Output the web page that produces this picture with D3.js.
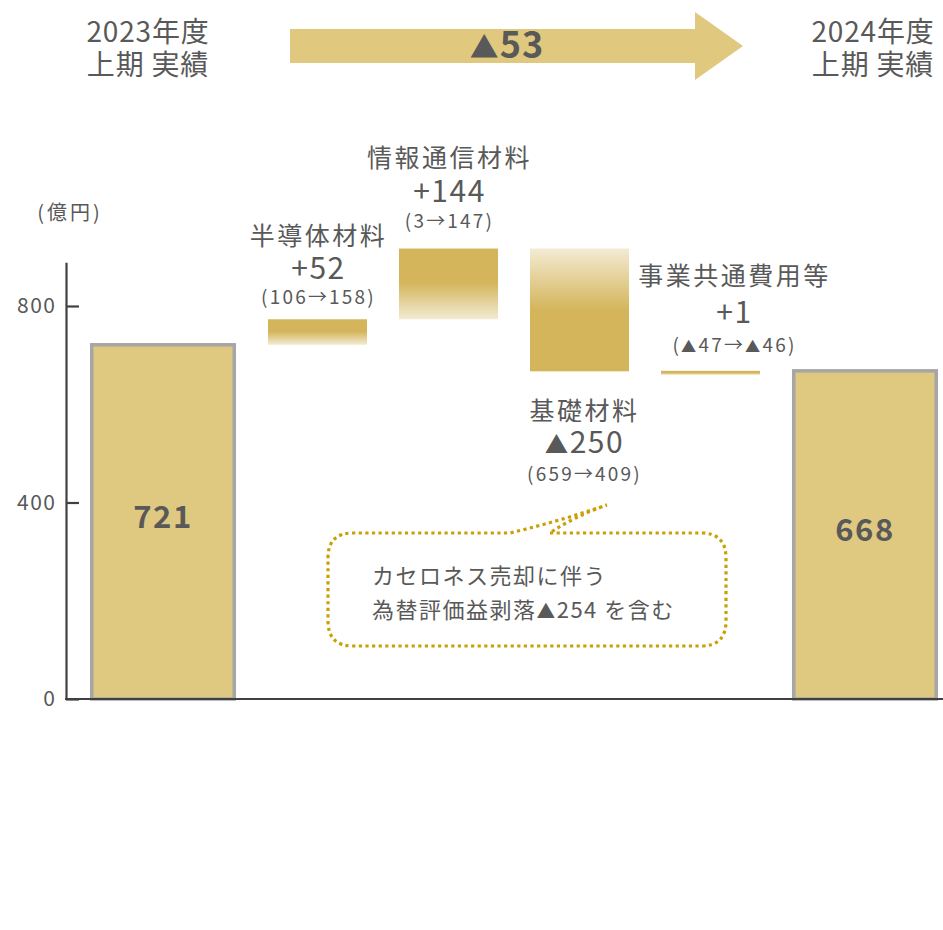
<!DOCTYPE html>
<html>
<head>
<meta charset="utf-8">
<script src="https://cdn.jsdelivr.net/npm/d3@7"></script>
<style>
  html, body { margin: 0; padding: 0; background: #fff; }
  svg { display: block; }
  text { font-family: "Noto Sans CJK JP", "Noto Sans", sans-serif; fill: #595959; }
</style>
</head>
<body>
<svg id="chart" width="943" height="930"></svg>
<script>
// ---- data ----
const categories = ["2023年度 上期 実績", "半導体材料", "情報通信材料", "基礎材料", "事業共通費用等", "2024年度 上期 実績"];
const kinds      = ["total", "delta", "delta", "delta", "delta", "total"];
const values     = [721, 52, 144, -250, 1, 668];
const subLabels  = ["", "(106→158)", "(3→147)", "(659→409)", "(▲47→▲46)", ""];
const headerLines = [["2023年度", "上期 実績"], ["2024年度", "上期 実績"]];
const totalChange = "▲53";
const yTicks = [0, 400, 800];
const yAxisMax = 889;
const unitLabel = "(億円)";
const noteLines = ["カセロネス売却に伴う", "為替評価益剥落▲254 を含む"];

// ---- helpers ----
const fmtDelta = v => (v >= 0 ? "+" : "▲") + Math.abs(v);
// writes text, rendering ▲ a little smaller as in the original font
function richText(sel, str, triScale) {
  const parts = str.split(/(▲)/).filter(s => s.length);
  parts.forEach(s => {
    const t = sel.append("tspan").text(s);
    if (s === "▲") t.style("font-size", triScale + "em");
  });
  return sel;
}

const svg = d3.select("#chart");
const gold = "#d4b55b", light = "#f3ebd3", solid = "#dfc880";

const defs = svg.append("defs");
const gDown = defs.append("linearGradient").attr("id", "gDown").attr("x1", 0).attr("y1", 0).attr("x2", 0).attr("y2", 1);
gDown.append("stop").attr("offset", "0").attr("stop-color", gold);
gDown.append("stop").attr("offset", "0.48").attr("stop-color", gold);
gDown.append("stop").attr("offset", "1").attr("stop-color", light);
const gUp = defs.append("linearGradient").attr("id", "gUp").attr("x1", 0).attr("y1", 0).attr("x2", 0).attr("y2", 1);
gUp.append("stop").attr("offset", "0").attr("stop-color", light);
gUp.append("stop").attr("offset", "0.5").attr("stop-color", gold);
gUp.append("stop").attr("offset", "1").attr("stop-color", gold);

// ---- scales ----
const y = d3.scaleLinear().domain([0, 800]).range([699, 306]);
const x = d3.scaleBand().domain(categories).range([121, 907]).paddingInner(0.244).paddingOuter(0.122);
const bw = x.bandwidth();
const totalExtra = 47;

// ---- waterfall geometry ----
let cum = 0;
const bars = categories.map((c, i) => {
  let lo, hi;
  if (kinds[i] === "total") { lo = 0; hi = values[i]; cum = values[i]; }
  else { const from = cum; cum += values[i]; lo = Math.min(from, cum); hi = Math.max(from, cum); }
  let x0 = x(c), x1 = x(c) + bw;
  if (kinds[i] === "total") { if (i === 0) x0 -= totalExtra; else x1 += totalExtra; }
  return { c, i, kind: kinds[i], v: values[i], lo, hi, x0, x1 };
});

// ---- axis ----
const yAxisScale = y.copy().domain([0, yAxisMax]).range([y(0), y(yAxisMax)]);
const axisG = svg.append("g").attr("transform", `translate(66,0)`)
  .call(d3.axisLeft(yAxisScale).tickValues(yTicks).tickSizeInner(-13).tickSizeOuter(0).tickPadding(11).tickFormat(d3.format("d")));
axisG.select(".domain").attr("stroke", "#404040").attr("stroke-width", 2.2);
axisG.selectAll(".tick line").attr("stroke", "#404040").attr("stroke-width", 2.2);
axisG.selectAll(".tick text").attr("fill", "#595959").style("font-size", "21px").style("letter-spacing", "1.5px")
  .attr("dx", "1.5px")
  .style("font-family", "'Noto Sans CJK JP', sans-serif");

svg.append("text").attr("x", 70).attr("y", 220).attr("text-anchor", "middle")
  .style("font-size", "20px").style("letter-spacing", "3px").text(unitLabel);

// ---- bars ----
svg.selectAll("rect.bar").data(bars).join("rect")
  .attr("class", "bar")
  .attr("x", d => d.kind === "total" ? d.x0 + 1.75 : d.x0)
  .attr("width", d => d.kind === "total" ? d.x1 - d.x0 - 3.5 : d.x1 - d.x0)
  .attr("y", d => y(d.hi))
  .attr("height", d => Math.max(y(d.lo) - y(d.hi), 4))
  .attr("fill", d => d.kind === "total" ? solid : (d.v >= 0 ? "url(#gDown)" : "url(#gUp)"))
  .attr("stroke", d => d.kind === "total" ? "#a6a6a6" : "none")
  .attr("stroke-width", 3.5);

// baseline
svg.append("line").attr("x1", 65).attr("x2", 943).attr("y1", y(0)).attr("y2", y(0))
  .attr("stroke", "#404040").attr("stroke-width", 2.2);

// total value labels
svg.selectAll("text.total").data(bars.filter(d => d.kind === "total")).join("text")
  .attr("class", "total")
  .attr("x", d => (d.x0 + d.x1) / 2)
  .attr("y", d => (y(d.hi) + y(0)) / 2 + 6)
  .attr("text-anchor", "middle")
  .style("font-size", "31px").style("font-weight", "bold").style("letter-spacing", "1.5px")
  .text(d => d.v);

// delta labels
const labelLayout = {
  "半導体材料":   { dx: 0,  side: "above", gap: 15, vGap: 25, nGap: 34 },
  "情報通信材料": { dx: 0,  side: "above", gap: 21, vGap: 26, nGap: 35 },
  "基礎材料":     { dx: 4,  side: "below", gap: 49, vGap: 33, nGap: 28 },
  "事業共通費用等": { dx: 23, side: "above", gap: 19, vGap: 29, nGap: 38 }
};
bars.filter(d => d.kind === "delta").forEach(d => {
  const L = labelLayout[d.c];
  const cx = (d.x0 + d.x1) / 2 + L.dx;
  let nameY, valY, subY;
  if (L.side === "above") {
    subY = y(d.hi) - L.gap; valY = subY - L.vGap; nameY = valY - L.nGap;
  } else {
    nameY = y(d.lo) + L.gap; valY = nameY + L.vGap; subY = valY + L.nGap;
  }
  svg.append("text").attr("x", cx + 1).attr("y", nameY).attr("text-anchor", "middle")
    .style("font-size", "25px").style("letter-spacing", "2.5px").text(d.c);
  richText(svg.append("text").attr("x", cx + 1).attr("y", valY).attr("text-anchor", "middle")
    .style("font-size", "30px").style("letter-spacing", "1.5px"), fmtDelta(d.v), 0.78);
  richText(svg.append("text").attr("x", cx + 1).attr("y", subY).attr("text-anchor", "middle")
    .style("font-size", "19px").style("letter-spacing", "2.2px"), subLabels[d.i], 0.8);
});

// ---- header ----
const headerX = [148, 873];
headerLines.forEach((lines, k) => {
  lines.forEach((t, j) => {
    svg.append("text").attr("x", headerX[k]).attr("y", 42 + j * 33).attr("text-anchor", "middle")
      .style("font-size", "28px").style("letter-spacing", "0.8px").text(t);
  });
});

// arrow
const ar = { x0: 290, x1: 743, head: 695, yc: 46, half: 17, headHalf: 34 };
svg.append("path")
  .attr("d", d3.line()([
    [ar.x0, ar.yc - ar.half], [ar.head, ar.yc - ar.half], [ar.head, ar.yc - ar.headHalf],
    [ar.x1, ar.yc], [ar.head, ar.yc + ar.headHalf], [ar.head, ar.yc + ar.half], [ar.x0, ar.yc + ar.half]
  ]) + "Z")
  .attr("fill", "#e0c97f");
richText(svg.append("text").attr("x", 507).attr("y", 58).attr("text-anchor", "middle")
  .style("font-size", "36px").style("font-weight", "bold").style("letter-spacing", "1px"), totalChange, 0.8);

// ---- callout ----
const cb = { l: 328, r: 726, t: 533, b: 646, rad: 25, p1: 510, p2: 550, tipX: 607, tipY: 505 };
const p = d3.path();
p.moveTo(cb.p2, cb.t);
p.lineTo(cb.r - cb.rad, cb.t);
p.quadraticCurveTo(cb.r, cb.t, cb.r, cb.t + cb.rad);
p.lineTo(cb.r, cb.b - cb.rad);
p.quadraticCurveTo(cb.r, cb.b, cb.r - cb.rad, cb.b);
p.lineTo(cb.l + cb.rad, cb.b);
p.quadraticCurveTo(cb.l, cb.b, cb.l, cb.b - cb.rad);
p.lineTo(cb.l, cb.t + cb.rad);
p.quadraticCurveTo(cb.l, cb.t, cb.l + cb.rad, cb.t);
p.lineTo(cb.p1, cb.t);
p.quadraticCurveTo(560, 521, cb.tipX, cb.tipY);
p.quadraticCurveTo(575, 516, cb.p2, cb.t);
svg.append("path").attr("d", p.toString()).attr("fill", "none")
  .attr("stroke", "#c9a005").attr("stroke-width", 3.2).attr("stroke-dasharray", "3.2 3.4");

noteLines.forEach((t, j) => {
  richText(svg.append("text").attr("x", 372).attr("y", 584 + j * 34)
    .style("font-size", "22px").style("letter-spacing", "1.5px"), t, 0.85);
});
</script>
</body>
</html>
